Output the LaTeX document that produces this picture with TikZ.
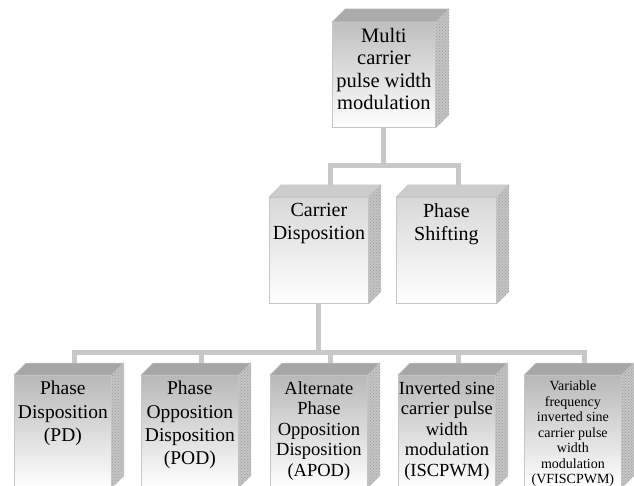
\documentclass[tikz,border=0pt]{standalone}
\usepackage{fontspec}
\setmainfont{Liberation Serif}
\usetikzlibrary{calc,patterns}
\pgfdeclarelayer{background}
\pgfsetlayers{background,main}
\definecolor{connc}{HTML}{C8C8C8}
\definecolor{edgec}{HTML}{C6C6C6}
\definecolor{sidec}{HTML}{C4C4C4}
\definecolor{sidedot}{HTML}{9C9C9C}
\definecolor{topA}{HTML}{B8B8B8}
\definecolor{topB}{HTML}{D8D8D8}
\definecolor{topC}{HTML}{BFBFBF}
\definecolor{lidA}{HTML}{A6A6A6}
\definecolor{lidB}{HTML}{CCCCCC}
\definecolor{lidC}{HTML}{ABABAB}
\newlength\dd
\setlength\dd{12pt}
\tikzset{
  frontface/.style={draw=edgec, line width=0.8pt, inner sep=0pt, bottom color=white},
  sideface/.style={fill=sidec, draw=edgec, line width=0.5pt, postaction={pattern=crosshatch dots, pattern color=sidedot}},
  boxtext/.style={inner sep=0pt, align=center, text=black},
  conn/.style={draw=connc, line width=5pt, line join=miter}
}
% #1 name #2 x #3 ytop #4 w #5 h #6 front top colour #7 lid colour #8 font #9 text
\newcommand\mkcube[9]{%
  \node[frontface, top color=#6, minimum width=#4, minimum height=#5, anchor=north west] (#1) at (#2,#3) {};
  \fill[fill=#7, draw=edgec, line width=0.5pt] (#1.north west) -- ++(\dd,\dd) -- ($(#1.north east)+(\dd,\dd)$) -- (#1.north east) -- cycle;
  \path[sideface] (#1.north east) -- ++(\dd,\dd) -- ($(#1.south east)+(\dd,\dd)$) -- (#1.south east) -- cycle;
  \begin{scope}
    \clip (#1.south west) rectangle (#1.north east);
    \node[boxtext, font=#8, anchor=north] (#1-t) at ([yshift=-6pt]#1.north) {#9};
  \end{scope}
  \coordinate (#1-b) at ($(#1.north)+(\dd,\dd)$);
}
\begin{document}
\begin{tikzpicture}[x=1pt,y=1pt]
\useasboundingbox (0,0) rectangle (634,485);
\begin{scope}
\clip (0,0) rectangle (634,485);
\setlength\dd{13pt}
\mkcube{mc}{332}{463}{103}{105}{topC}{lidC}{\fontsize{20.5}{22.5}\selectfont}{Multi\\carrier\\pulse width\\modulation}
\setlength\dd{12pt}
\mkcube{cd}{269}{288}{99}{106}{topB}{lidB}{\fontsize{20}{23.3}\selectfont}{Carrier\\Disposition}
\mkcube{ps}{396}{288}{100}{106}{topB}{lidB}{\fontsize{20}{23.3}\selectfont}{Phase\\Shifting}
\mkcube{pd}{14}{110}{97}{112}{topA}{lidA}{\fontsize{19.5}{23.3}\selectfont}{Phase\\Disposition\\(PD)}
\mkcube{pod}{141}{110}{97}{112}{topA}{lidA}{\fontsize{19.5}{23.3}\selectfont}{Phase\\Opposition\\Disposition\\(POD)}
\mkcube{apod}{270}{110}{97}{112}{topA}{lidA}{\fontsize{18.5}{20.5}\selectfont}{Alternate\\Phase\\Opposition\\Disposition\\(APOD)}
\mkcube{isc}{398}{110}{97}{112}{topA}{lidA}{\fontsize{18.5}{20.5}\selectfont}{Inverted sine\\carrier pulse\\width\\modulation\\(ISCPWM)}
\mkcube{vf}{524}{110}{97}{112}{topA}{lidA}{\fontsize{14}{15.5}\selectfont}{Variable\\frequency\\inverted sine\\carrier pulse\\width\\modulation\\(VFISCPWM)}
\end{scope}
\begin{pgfonlayer}{background}
  \draw[conn] (mc.south) -- ++(0,-38) coordinate (j1);
  \draw[conn] (cd-b) |- (j1) -| (ps-b);
  \draw[conn] (cd.south) -- ++(0,-49) coordinate (j2);
  \draw[conn] (pd-b) |- (j2) -| (vf-b);
  \draw[conn] (pod-b) -- (pod-b |- j2);
  \draw[conn] (apod-b) -- (apod-b |- j2);
  \draw[conn] (isc-b) -- (isc-b |- j2);
\end{pgfonlayer}
\end{tikzpicture}
\end{document}
